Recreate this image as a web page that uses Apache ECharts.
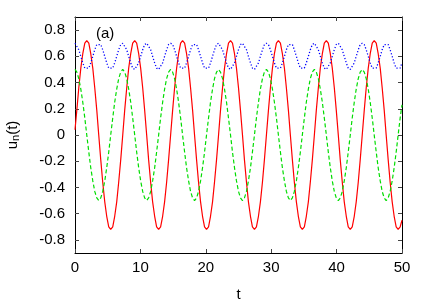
<!DOCTYPE html>
<html>
<head>
<meta charset="utf-8">
<script src="https://cdn.jsdelivr.net/npm/echarts@6/dist/echarts.min.js"></script>
<style>
html,body{margin:0;padding:0;background:#fff;}
#c{width:427px;height:299px;}
</style>
</head>
<body>
<div id="c"></div>
<script>
// time samples
const tValues = [
0.00, 0.28, 0.58, 0.89, 1.19, 1.50, 1.80, 2.11, 2.41, 2.72, 3.02, 3.33, 3.63, 3.94, 4.24, 4.55, 4.85, 5.16, 5.46, 5.77, 6.07, 6.38, 6.68, 6.99,
7.30, 7.60, 7.91, 8.21, 8.52, 8.82, 9.13, 9.43, 9.74, 10.04, 10.35, 10.65, 10.96, 11.26, 11.57, 11.87, 12.18, 12.48, 12.79, 13.09, 13.40, 13.70, 14.01, 14.31,
14.62, 14.93, 15.23, 15.54, 15.84, 16.15, 16.45, 16.76, 17.06, 17.37, 17.67, 17.98, 18.28, 18.59, 18.89, 19.20, 19.50, 19.81, 20.11, 20.42, 20.72, 21.03, 21.33, 21.64,
21.95, 22.25, 22.56, 22.86, 23.17, 23.47, 23.78, 24.08, 24.39, 24.69, 25.00, 25.30, 25.61, 25.91, 26.22, 26.52, 26.83, 27.13, 27.44, 27.74, 28.05, 28.35, 28.66, 28.96,
29.27, 29.58, 29.88, 30.19, 30.49, 30.80, 31.10, 31.41, 31.71, 32.02, 32.32, 32.63, 32.93, 33.24, 33.54, 33.85, 34.15, 34.46, 34.76, 35.07, 35.37, 35.68, 35.98, 36.29,
36.60, 36.90, 37.21, 37.51, 37.82, 38.12, 38.43, 38.73, 39.04, 39.34, 39.65, 39.95, 40.26, 40.56, 40.87, 41.17, 41.48, 41.78, 42.09, 42.39, 42.70, 43.00, 43.31, 43.61,
43.92, 44.23, 44.53, 44.84, 45.14, 45.45, 45.75, 46.06, 46.36, 46.67, 46.97, 47.28, 47.58, 47.89, 48.19, 48.50, 48.80, 49.11, 49.41, 49.72, 50.00
];

// red solid curve
const redValues = [
0.04, 0.19, 0.36, 0.51, 0.62, 0.70, 0.72, 0.70, 0.62, 0.51, 0.36, 0.19, 0.00, -0.19, -0.36, -0.51, -0.62, -0.70, -0.72, -0.70, -0.62, -0.51, -0.36, -0.19,
0.00, 0.19, 0.36, 0.51, 0.62, 0.70, 0.72, 0.70, 0.62, 0.51, 0.36, 0.19, 0.00, -0.19, -0.36, -0.51, -0.62, -0.70, -0.72, -0.70, -0.62, -0.51, -0.36, -0.19,
0.00, 0.19, 0.36, 0.51, 0.62, 0.70, 0.72, 0.70, 0.62, 0.51, 0.36, 0.19, 0.00, -0.19, -0.36, -0.51, -0.62, -0.70, -0.72, -0.70, -0.62, -0.51, -0.36, -0.19,
0.00, 0.19, 0.36, 0.51, 0.62, 0.70, 0.72, 0.70, 0.62, 0.51, 0.36, 0.19, 0.00, -0.19, -0.36, -0.51, -0.62, -0.70, -0.72, -0.70, -0.62, -0.51, -0.36, -0.19,
0.00, 0.19, 0.36, 0.51, 0.62, 0.70, 0.72, 0.70, 0.62, 0.51, 0.36, 0.19, 0.00, -0.19, -0.36, -0.51, -0.62, -0.70, -0.72, -0.70, -0.62, -0.51, -0.36, -0.19,
0.00, 0.19, 0.36, 0.51, 0.62, 0.70, 0.72, 0.70, 0.62, 0.51, 0.36, 0.19, 0.00, -0.19, -0.36, -0.51, -0.62, -0.70, -0.72, -0.70, -0.62, -0.51, -0.36, -0.19,
0.00, 0.19, 0.36, 0.51, 0.62, 0.70, 0.72, 0.70, 0.62, 0.51, 0.36, 0.19, 0.00, -0.19, -0.36, -0.51, -0.62, -0.70, -0.72, -0.70, -0.65
];

// green dashed curve
const greenValues = [
0.50, 0.48, 0.43, 0.35, 0.25, 0.13, 0.00, -0.13, -0.25, -0.35, -0.43, -0.48, -0.50, -0.48, -0.43, -0.35, -0.25, -0.13, 0.00, 0.13, 0.25, 0.35, 0.43, 0.48,
0.50, 0.48, 0.43, 0.35, 0.25, 0.13, 0.00, -0.13, -0.25, -0.35, -0.43, -0.48, -0.50, -0.48, -0.43, -0.35, -0.25, -0.13, 0.00, 0.13, 0.25, 0.35, 0.43, 0.48,
0.50, 0.48, 0.43, 0.35, 0.25, 0.13, 0.00, -0.13, -0.25, -0.35, -0.43, -0.48, -0.50, -0.48, -0.43, -0.35, -0.25, -0.13, 0.00, 0.13, 0.25, 0.35, 0.43, 0.48,
0.50, 0.48, 0.43, 0.35, 0.25, 0.13, 0.00, -0.13, -0.25, -0.35, -0.43, -0.48, -0.50, -0.48, -0.43, -0.35, -0.25, -0.13, 0.00, 0.13, 0.25, 0.35, 0.43, 0.48,
0.50, 0.48, 0.43, 0.35, 0.25, 0.13, 0.00, -0.13, -0.25, -0.35, -0.43, -0.48, -0.50, -0.48, -0.43, -0.35, -0.25, -0.13, 0.00, 0.13, 0.25, 0.35, 0.43, 0.48,
0.50, 0.48, 0.43, 0.35, 0.25, 0.13, 0.00, -0.13, -0.25, -0.35, -0.43, -0.48, -0.50, -0.48, -0.43, -0.35, -0.25, -0.13, 0.00, 0.13, 0.25, 0.35, 0.43, 0.48,
0.50, 0.48, 0.43, 0.35, 0.25, 0.13, 0.00, -0.13, -0.25, -0.35, -0.43, -0.48, -0.50, -0.48, -0.43, -0.35, -0.25, -0.13, 0.00, 0.13, 0.23
];

// blue dotted curve
const blueValues = [
0.70, 0.69, 0.65, 0.60, 0.55, 0.51, 0.50, 0.51, 0.55, 0.60, 0.65, 0.69, 0.70, 0.69, 0.65, 0.60, 0.55, 0.51, 0.50, 0.51, 0.55, 0.60, 0.65, 0.69,
0.70, 0.69, 0.65, 0.60, 0.55, 0.51, 0.50, 0.51, 0.55, 0.60, 0.65, 0.69, 0.70, 0.69, 0.65, 0.60, 0.55, 0.51, 0.50, 0.51, 0.55, 0.60, 0.65, 0.69,
0.70, 0.69, 0.65, 0.60, 0.55, 0.51, 0.50, 0.51, 0.55, 0.60, 0.65, 0.69, 0.70, 0.69, 0.65, 0.60, 0.55, 0.51, 0.50, 0.51, 0.55, 0.60, 0.65, 0.69,
0.70, 0.69, 0.65, 0.60, 0.55, 0.51, 0.50, 0.51, 0.55, 0.60, 0.65, 0.69, 0.70, 0.69, 0.65, 0.60, 0.55, 0.51, 0.50, 0.51, 0.55, 0.60, 0.65, 0.69,
0.70, 0.69, 0.65, 0.60, 0.55, 0.51, 0.50, 0.51, 0.55, 0.60, 0.65, 0.69, 0.70, 0.69, 0.65, 0.60, 0.55, 0.51, 0.50, 0.51, 0.55, 0.60, 0.65, 0.69,
0.70, 0.69, 0.65, 0.60, 0.55, 0.51, 0.50, 0.51, 0.55, 0.60, 0.65, 0.69, 0.70, 0.69, 0.65, 0.60, 0.55, 0.51, 0.50, 0.51, 0.55, 0.60, 0.65, 0.69,
0.70, 0.69, 0.65, 0.60, 0.55, 0.51, 0.50, 0.51, 0.55, 0.60, 0.65, 0.69, 0.70, 0.69, 0.65, 0.60, 0.55, 0.51, 0.50, 0.51, 0.55
];

const xTicks = [0, 10, 20, 30, 40, 50];
const yTicks = [-0.8, -0.6, -0.4, -0.2, 0, 0.2, 0.4, 0.6, 0.8];

function pairs(vals) { return tValues.map((t, i) => [t, vals[i]]); }

const FONT = '"Liberation Sans", Arial, sans-serif';
const lineCol = '#000';

const chart = echarts.init(document.getElementById('c'), null, {renderer: 'canvas'});

const baseX = {
  type: 'value', min: 0, max: 50, interval: 10,
  splitLine: {show: false},
  axisLine: {show: true, onZero: false, lineStyle: {color: lineCol, width: 1}},
  axisTick: {show: true, inside: true, length: 4, lineStyle: {color: '#444'}}
};
const baseY = {
  type: 'value', min: -0.9, max: 0.9,
  splitLine: {show: false},
  axisLine: {show: true, onZero: false, lineStyle: {color: lineCol, width: 1}},
  axisTick: {show: true, inside: true, length: 4, customValues: yTicks, lineStyle: {color: '#444'}}
};

chart.setOption({
  animation: false,
  backgroundColor: '#fff',
  grid: {left: 75, right: 25, top: 17, bottom: 46, containLabel: false, outerBoundsMode: 'none'},
  xAxis: [
    Object.assign({}, baseX, {
      position: 'bottom',
      name: 't', nameLocation: 'middle', nameGap: 34,
      nameTextStyle: {fontFamily: FONT, fontSize: 15, color: '#000'},
      axisLabel: {show: true, margin: 7, fontFamily: FONT, fontSize: 15, color: '#000',
        customValues: xTicks}
    }),
    Object.assign({}, baseX, {position: 'top', axisLabel: {show: false}})
  ],
  yAxis: [
    Object.assign({}, baseY, {
      position: 'left',
      name: 'u{sub|n}(t)', nameLocation: 'middle', nameGap: 54, nameRotate: 90,
      nameTextStyle: {fontFamily: FONT, fontSize: 15, color: '#000',
        rich: {sub: {fontFamily: FONT, fontSize: 11, color: '#000', verticalAlign: 'bottom', padding: [5, 0, 0, 0]}}},
      axisLabel: {show: true, margin: 10, fontFamily: FONT, fontSize: 15, color: '#000',
        customValues: yTicks,
        formatter: v => String(Number(Number(v).toFixed(1)))}
    }),
    Object.assign({}, baseY, {position: 'right', axisLabel: {show: false}})
  ],
  graphic: [{
    type: 'text', left: 96, top: 26,
    style: {text: '(a)', fontFamily: FONT, fontSize: 15, fill: '#000'}
  }],
  series: [
    {type: 'line', name: 'red', data: pairs(redValues), showSymbol: false, symbol: 'none',
      clip: true, lineStyle: {color: '#ff0000', width: 1.2}},
    {type: 'line', name: 'green', data: pairs(greenValues), showSymbol: false, symbol: 'none',
      clip: true, lineStyle: {color: '#00dd00', width: 1.2, type: [4, 2.5]}},
    {type: 'line', name: 'blue', data: pairs(blueValues), showSymbol: false, symbol: 'none',
      clip: true, lineStyle: {color: '#0000ff', width: 1.3, type: [1.2, 2]}}
  ]
});
</script>
</body>
</html>
